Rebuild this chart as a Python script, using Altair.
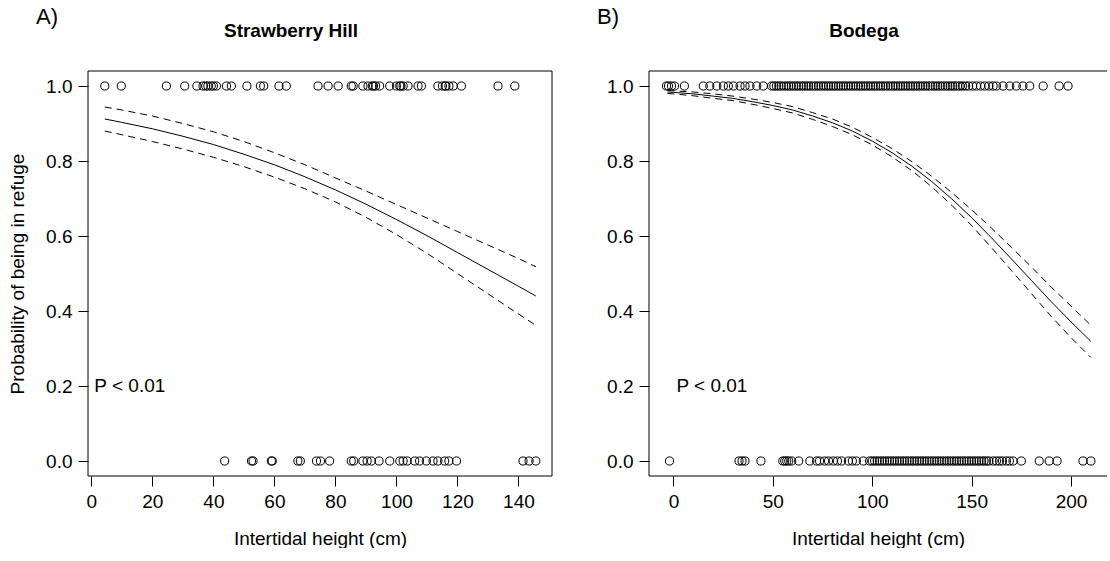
import altair as alt
import pandas as pd

FONT = "Liberation Sans"

# ---------------- data ----------------
# Strawberry Hill: observed heights (cm) of animals in refuge (1) and not (0)
sh_top = [4.4, 9.8, 24.6, 30.6, 34.6, 36.6, 37.5, 38.2, 39.3, 40.0, 41.0, 44.3, 45.9,
          51.0, 55.4, 56.5, 61.5, 63.9, 74.3, 77.6, 80.9, 85.2, 85.8, 89.0, 90.7,
          92.1, 92.5, 93.2, 94.5, 97.8, 100.0, 101.1, 101.5, 102.2, 103.8, 107.1,
          108.2, 113.6, 115.1, 116.0, 116.2, 117.2, 118.6, 121.3, 133.3, 138.8]
sh_bot = [43.7, 52.5, 53.0, 59.0, 59.3, 67.7, 68.5, 73.8, 75.1, 78.1, 85.2, 86.0,
          89.0, 90.4, 91.8, 94.3, 97.8, 101.1, 102.2, 103.5, 106.0, 107.6, 109.8,
          112.0, 113.6, 115.8, 117.2, 119.7, 141.5, 143.5, 145.7]

# Strawberry Hill fitted curve and confidence band
sh_x = [4.4, 10, 20, 30, 40, 50, 60, 70, 80, 90, 100, 110, 120, 130, 140, 145.7]
sh_fit = [0.912, 0.903, 0.886, 0.866, 0.844, 0.818, 0.790, 0.758, 0.723, 0.685,
          0.644, 0.601, 0.556, 0.511, 0.466, 0.440]
sh_up = [0.944, 0.936, 0.920, 0.900, 0.878, 0.852, 0.822, 0.790, 0.755, 0.720,
         0.684, 0.648, 0.612, 0.576, 0.540, 0.518]
sh_lo = [0.880, 0.870, 0.852, 0.832, 0.810, 0.785, 0.757, 0.726, 0.691, 0.650,
         0.604, 0.554, 0.500, 0.446, 0.392, 0.362]

# Bodega: observed heights (cm)
bo_top = [-3.5, -2.5, -1.0, 0.5, 5.5,
          15.0, 18.3, 21.8, 25.1, 27.6, 30.2, 33.5, 36.0, 38.5, 41.9, 45.2,
          49.4, 50.5, 51.8, 53.0, 54.2, 55.5, 56.8, 58.0, 59.3, 60.5, 61.8, 63.0,
          64.3, 65.5, 66.8, 68.0, 69.2, 70.5, 71.7, 73.0, 74.2, 75.5, 76.7, 78.0,
          79.2, 80.5, 81.7, 83.0, 84.2, 85.5, 86.7, 88.0, 89.2, 90.5, 91.7, 93.0,
          94.2, 95.5, 96.7, 98.0, 99.2, 100.5, 101.7, 103.0, 104.2, 105.5, 106.7,
          108.0, 109.2, 110.5, 111.7, 113.0, 114.2, 115.5, 116.7, 118.0, 119.2,
          120.5, 121.7, 123.0, 124.2, 125.5, 126.7, 128.0, 129.2, 130.5, 131.7,
          133.0, 134.2, 135.5, 136.7, 138.0, 139.2, 140.5, 141.7, 143.0, 144.2,
          145.5, 147.0, 148.5, 150.5, 152.4, 154.5, 156.6, 158.7, 160.8, 162.5,
          165.8, 169.2, 172.5, 175.8, 179.2, 186.0, 194.0, 198.5]
bo_bot = [-2.0, 33.0, 34.5, 36.0, 44.0, 55.0, 56.0, 57.0, 58.0, 59.5, 63.0,
          68.6, 72.0, 73.5, 76.0, 78.0, 80.4, 82.5, 84.6, 88.0, 90.0, 92.0, 95.5,
          98.7, 100.0, 101.2, 102.5, 103.7, 105.0, 106.2, 107.5, 108.7, 110.0,
          111.2, 112.5, 113.7, 115.0, 116.2, 117.5, 118.7, 120.0, 121.2, 122.5,
          123.7, 125.0, 126.2, 127.5, 128.7, 130.0, 131.2, 132.5, 133.7, 135.0,
          136.2, 137.5, 138.7, 140.0, 141.2, 142.5, 143.7, 145.0, 146.2, 147.5,
          148.7, 150.0, 151.2, 152.5, 153.7, 155.0, 156.2, 157.5, 158.7, 160.8,
          162.5, 164.0, 165.5, 167.5, 169.0, 170.8, 175.0, 184.0, 189.0, 193.0,
          206.0, 210.0]

# Bodega fitted curve and confidence band
bo_x = [-3, 0, 10, 20, 30, 40, 50, 60, 70, 80, 90, 100, 110, 120, 130, 140, 150,
        160, 170, 180, 190, 200, 210]
bo_fit = [0.984, 0.983, 0.979, 0.973, 0.967, 0.958, 0.948, 0.936, 0.920, 0.902,
          0.880, 0.853, 0.822, 0.786, 0.745, 0.699, 0.649, 0.595, 0.539, 0.482,
          0.425, 0.371, 0.319]
bo_up = [0.988, 0.987, 0.984, 0.979, 0.973, 0.965, 0.956, 0.945, 0.929, 0.912,
         0.890, 0.863, 0.833, 0.798, 0.759, 0.716, 0.670, 0.621, 0.570, 0.518,
         0.464, 0.413, 0.362]
bo_lo = [0.980, 0.979, 0.974, 0.967, 0.961, 0.951, 0.940, 0.928, 0.911, 0.892,
         0.870, 0.843, 0.811, 0.774, 0.731, 0.682, 0.628, 0.569, 0.508, 0.447,
         0.386, 0.329, 0.276]

titles = ["Strawberry Hill", "Bodega"]
letters = ["A)", "B)"]
x_title = "Intertidal height (cm)"
y_title = "Probability of being in refuge"
p_text = "P < 0.01"
p_x, p_y = 0, 0.2
sh_ticks = [0, 20, 40, 60, 80, 100, 120, 140]
bo_ticks = [0, 50, 100, 150, 200]
y_ticks = [0.0, 0.2, 0.4, 0.6, 0.8, 1.0]

H = 405
one = pd.DataFrame({"a": [0]})


def panel(top, bot, cx, fit, up, lo, xdom, xticks, W, title, tdx, letter,
          ytitle, right_border):
    pts = pd.DataFrame({"x": top + bot, "y": [1.0] * len(top) + [0.0] * len(bot)})
    cur = pd.DataFrame({"x": cx, "fit": fit, "up": up, "lo": lo})
    xs = alt.Scale(domain=xdom, nice=False, zero=False)
    ys = alt.Scale(domain=[-0.04, 1.04], nice=False, zero=False)
    xax = alt.Axis(values=xticks, title=x_title)
    if ytitle:
        yax = alt.Axis(values=y_ticks, format=".1f", title=ytitle)
    else:
        yax = alt.Axis(values=y_ticks, format=".1f", title=None)

    points = alt.Chart(pts).mark_point(
        shape="circle", filled=False, size=66, color="black", strokeWidth=1,
        opacity=1
    ).encode(x=alt.X("x:Q", scale=xs, axis=xax), y=alt.Y("y:Q", scale=ys, axis=yax))

    def line(col, dash):
        kw = dict(color="black", strokeWidth=1)
        if dash:
            kw["strokeDash"] = [7, 5]
        return alt.Chart(cur).mark_line(**kw).encode(
            x=alt.X("x:Q", scale=xs), y=alt.Y(col + ":Q", scale=ys))

    ptxt = alt.Chart(pd.DataFrame({"x": [p_x], "y": [p_y], "t": [p_text]})).mark_text(
        align="left", baseline="middle", dx=3, fontSize=19, font=FONT, color="black"
    ).encode(x=alt.X("x:Q", scale=xs), y=alt.Y("y:Q", scale=ys), text="t:N")

    let = alt.Chart(one).mark_text(
        text=letter, align="left", baseline="alphabetic", fontSize=22, font=FONT,
        color="black"
    ).encode(x=alt.value(-52), y=alt.value(-47))

    ttl = alt.Chart(one).mark_text(
        text=title, align="center", baseline="alphabetic", fontSize=19,
        fontWeight="bold", font=FONT, color="black"
    ).encode(x=alt.value(W / 2 + tdx), y=alt.value(-34))

    rules = [
        alt.Chart(one).mark_rule(color="black", strokeWidth=1).encode(
            x=alt.value(0), y=alt.value(0), y2=alt.value(H)),
        alt.Chart(one).mark_rule(color="black", strokeWidth=1).encode(
            x=alt.value(0), x2=alt.value(W), y=alt.value(0)),
        alt.Chart(one).mark_rule(color="black", strokeWidth=1).encode(
            x=alt.value(0), x2=alt.value(W), y=alt.value(H)),
    ]
    if right_border:
        rules.append(alt.Chart(one).mark_rule(color="black", strokeWidth=1).encode(
            x=alt.value(W), y=alt.value(0), y2=alt.value(H)))

    return alt.layer(
        *rules, points, line("fit", False), line("up", True), line("lo", True),
        ptxt, let, ttl
    ).properties(width=W, height=H)


left = panel(sh_top, sh_bot, sh_x, sh_fit, sh_up, sh_lo, [-1.1, 151.0], sh_ticks,
             464, titles[0], -29, letters[0], y_title, True)
right = panel(bo_top, bo_bot, bo_x, bo_fit, bo_up, bo_lo, [-12.3, 218.1], bo_ticks,
              458, titles[1], -14, letters[1], None, False)

chart = alt.hconcat(left, right, spacing=44).properties(
    padding={"left": 8, "top": 6, "right": 0, "bottom": 0}
).configure_view(stroke=None).configure_axis(
    domain=False, grid=False, ticks=True, tickColor="black", tickSize=10,
    tickWidth=1, labelFont=FONT, labelFontSize=19, labelColor="black",
    labelPadding=6, titleFont=FONT, titleFontSize=19, titleFontWeight="normal",
    titleColor="black"
).configure_axisX(titlePadding=18).configure_axisY(titlePadding=18)

chart.save("out.html", embed_options={"renderer": "svg", "actions": False})
